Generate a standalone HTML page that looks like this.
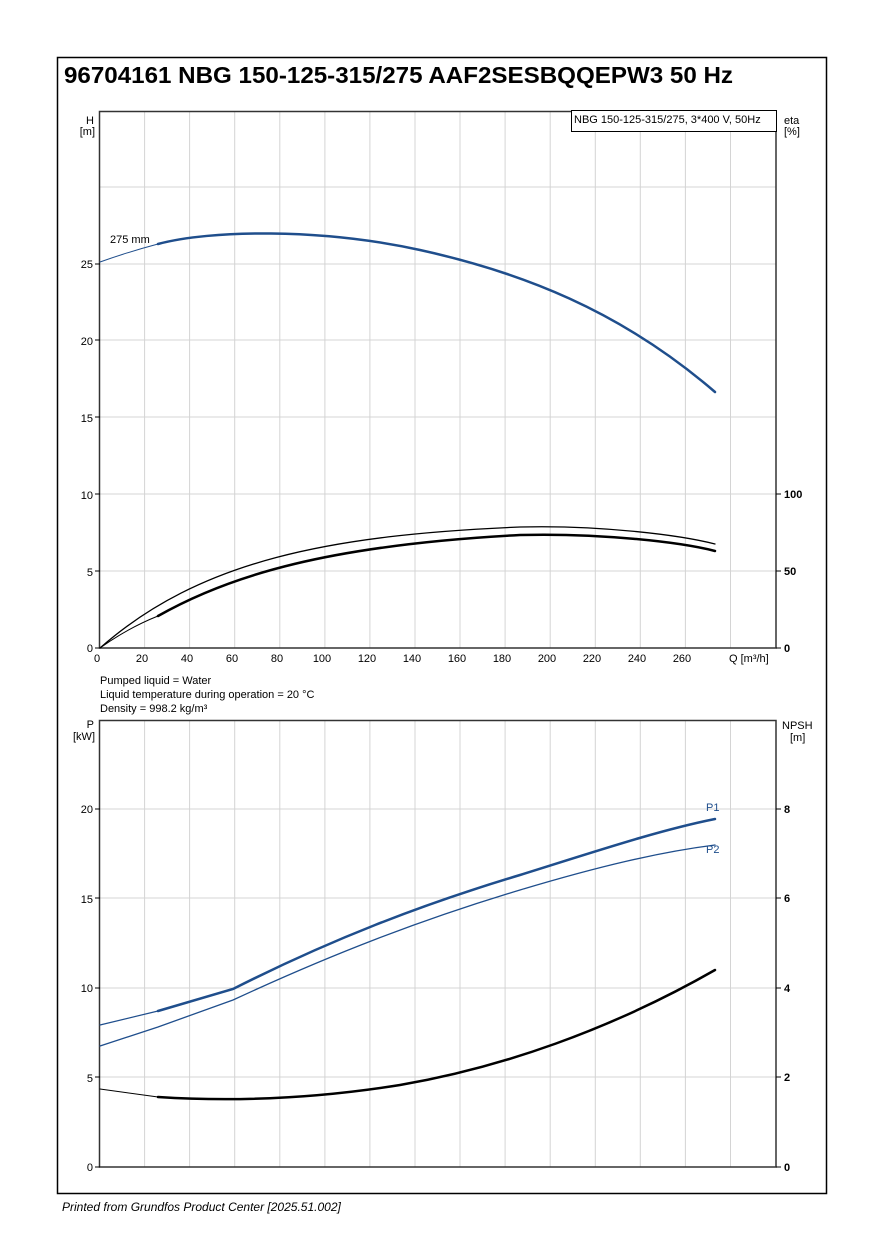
<!DOCTYPE html>
<html><head><meta charset="utf-8"><style>
body{margin:0;background:#fff}
svg{display:block;font-family:"Liberation Sans",Arial,sans-serif}
</style></head><body>
<svg width="882" height="1251" viewBox="0 0 882 1251" xmlns="http://www.w3.org/2000/svg">
<rect x="57.5" y="57.5" width="769" height="1136" fill="none" stroke="#000" stroke-width="1.5"/>
<text x="64" y="83" font-size="23.5" font-weight="bold" textLength="669" lengthAdjust="spacingAndGlyphs">96704161 NBG 150-125-315/275 AAF2SESBQQEPW3 50 Hz</text>
<g stroke="#d4d4d4" stroke-width="1">
<path d="M144.6 111V648M189.6 111V648M234.7 111V648M279.8 111V648M324.9 111V648M369.9 111V648M415 111V648M460 111V648M505.1 111V648M550.2 111V648M595.3 111V648M640.3 111V648M685.4 111V648M730.5 111V648"/>
<path d="M100 571H776M100 494H776M100 417H776M100 340H776M100 264H776M100 187H776"/>
<path d="M144.6 720V1167M189.6 720V1167M234.7 720V1167M279.8 720V1167M324.9 720V1167M369.9 720V1167M415 720V1167M460 720V1167M505.1 720V1167M550.2 720V1167M595.3 720V1167M640.3 720V1167M685.4 720V1167M730.5 720V1167"/>
<path d="M100 1077H776M100 988H776M100 898H776M100 809H776"/>
</g>
<rect x="99.5" y="111.5" width="676.5" height="536.5" fill="none" stroke="#333" stroke-width="1.5"/>
<rect x="99.5" y="720.5" width="676.5" height="446.5" fill="none" stroke="#333" stroke-width="1.5"/>
<g font-size="11" text-anchor="end">
<text x="94" y="124">H</text><text x="95" y="135">[m]</text>
<text x="93" y="268">25</text><text x="93" y="345">20</text><text x="93" y="422">15</text><text x="93" y="499">10</text><text x="93" y="576">5</text><text x="93" y="652">0</text>
<text x="94" y="728">P</text><text x="95" y="740">[kW]</text>
<text x="93" y="813">20</text><text x="93" y="903">15</text><text x="93" y="992">10</text><text x="93" y="1082">5</text><text x="93" y="1171">0</text>
</g>
<g stroke="#000"><path d="M95 264H100M95 340H100M95 417H100M95 494H100M95 571H100M95 648H100M95 809H100M95 898H100M95 988H100M95 1077H100M95 1167H100M776 494H781M776 571H781M776 648H781M776 809H781M776 898H781M776 988H781M776 1077H781M776 1167H781"/></g>
<g font-size="11" text-anchor="middle">
<text x="97" y="662">0</text><text x="142" y="662">20</text><text x="187" y="662">40</text><text x="232" y="662">60</text><text x="277" y="662">80</text><text x="322" y="662">100</text><text x="367" y="662">120</text><text x="412" y="662">140</text><text x="457" y="662">160</text><text x="502" y="662">180</text><text x="547" y="662">200</text><text x="592" y="662">220</text><text x="637" y="662">240</text><text x="682" y="662">260</text>
</g>
<g font-size="11">
<text x="729" y="662">Q [m³/h]</text>
<text x="784" y="124">eta</text><text x="784" y="135">[%]</text>
<text x="784" y="498" font-weight="bold">100</text><text x="784" y="575" font-weight="bold">50</text><text x="784" y="652" font-weight="bold">0</text>
<text x="782" y="729">NPSH</text><text x="790" y="741">[m]</text>
<text x="784" y="813" font-weight="bold">8</text><text x="784" y="902" font-weight="bold">6</text><text x="784" y="992" font-weight="bold">4</text><text x="784" y="1081" font-weight="bold">2</text><text x="784" y="1171" font-weight="bold">0</text>
<text x="100" y="684">Pumped liquid = Water</text>
<text x="100" y="698">Liquid temperature during operation = 20 °C</text>
<text x="100" y="712">Density = 998.2 kg/m³</text>
<text x="110" y="243">275 mm</text>
<text x="62" y="1211" font-size="12" font-style="italic">Printed from Grundfos Product Center [2025.51.002]</text>
</g>
<rect x="571.5" y="110.5" width="205" height="21" fill="#fff" stroke="#000"/>
<text x="574" y="123" font-size="11">NBG 150-125-315/275, 3*400 V, 50Hz</text>
<g fill="none" stroke-linecap="round">
<path d="M100 262Q128 252 158 244" stroke="#1f4e8c" stroke-width="1"/>
<path d="M158 244C210 230 320 228 420 250C520 272 620 310 715 392" stroke="#1f4e8c" stroke-width="2.5"/>
<path d="M100 648C200 560 330 535 520 527C600 525 680 535 715 544" stroke="#000" stroke-width="1.3"/>
<path d="M100 648Q128 628 158 616" stroke="#000" stroke-width="1"/>
<path d="M158 616C230 575 330 545 520 535C600 533 680 542 715 551" stroke="#000" stroke-width="2.5"/>
<path d="M100 1025L158 1011" stroke="#1f4e8c" stroke-width="1.2"/>
<path d="M158 1011L233 989C330 940 420 905 520 875C600 850 660 830 715 819" stroke="#1f4e8c" stroke-width="2.5"/>
<path d="M100 1046L158 1027L233 1000C330 955 420 920 520 890C600 866 660 852 715 845" stroke="#1f4e8c" stroke-width="1.3"/>
<path d="M100 1089L158 1097" stroke="#000" stroke-width="1"/>
<path d="M158 1097C220 1101 300 1101 400 1085C500 1068 610 1030 715 970" stroke="#000" stroke-width="2.5"/>
</g>
<text x="706" y="811" font-size="11" fill="#1f4e8c">P1</text>
<text x="706" y="853" font-size="11" fill="#1f4e8c">P2</text>
</svg>
</body></html>
